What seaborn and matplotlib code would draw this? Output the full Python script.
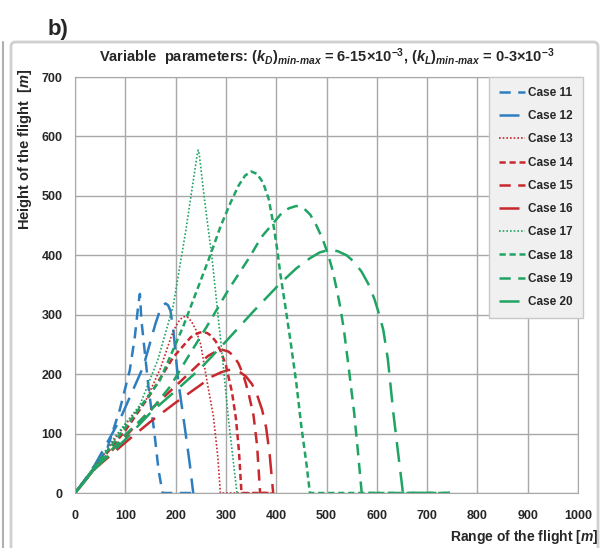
import matplotlib
matplotlib.use("Agg")
import matplotlib.pyplot as plt
import pandas as pd
import seaborn as sns
from matplotlib.patches import FancyBboxPatch

sns.set_style("white")
plt.rcParams['font.family'] = ['Liberation Sans', 'DejaVu Sans']
plt.rcParams['font.weight'] = 'bold'
plt.rcParams['mathtext.fontset'] = 'custom'
plt.rcParams['mathtext.rm'] = 'Liberation Sans:bold'
plt.rcParams['mathtext.it'] = 'Liberation Sans:italic:bold'
plt.rcParams['mathtext.bf'] = 'Liberation Sans:bold'

# trajectories (range, height in m)
x11 = [0, 20, 40, 63, 89, 109, 119, 126, 129, 132, 146, 158, 166, 174, 237]
y11 = [0, 22, 45, 72, 140, 207, 263, 318, 335, 291, 179, 100, 39, 0, 0]

x12 = [0, 20, 40, 89, 136, 160, 168, 174, 180, 185, 190, 196, 205, 219, 228, 235, 237]
y12 = [0, 23, 48, 123, 213, 285, 305, 315, 319, 316, 306, 270, 190, 106, 50, 0, 0]

x13 = [0, 40, 100, 142, 170, 192, 200, 208, 214, 219, 225, 232, 240, 250, 262, 275, 284, 289, 394]
y13 = [0, 45, 115, 158, 210, 265, 280, 291, 296, 297, 295, 288, 275, 250, 190, 130, 60, 0, 0]

x14 = [0, 40, 100, 149, 195, 230, 240, 248, 255, 263, 270, 280, 290, 300, 312, 320, 326, 331, 394]
y14 = [0, 43, 105, 165, 228, 262, 267, 270, 271, 269, 265, 255, 238, 215, 170, 125, 70, 0, 0]

x15 = [0, 40, 100, 150, 200, 250, 265, 280, 293, 305, 315, 325, 335, 345, 355, 362, 368, 394]
y15 = [0, 42, 95, 140, 180, 220, 231, 238, 241, 238, 231, 218, 198, 168, 130, 80, 0, 0]

x16 = [0, 40, 100, 150, 200, 250, 270, 290, 305, 315, 327, 340, 352, 362, 372, 380, 387, 394]
y16 = [0, 41, 85, 120, 152, 182, 195, 203, 207, 207, 204, 196, 183, 165, 140, 110, 65, 0]

x17 = [0, 40, 80, 129, 165, 195, 220, 243, 245, 247, 258, 272, 291, 305, 322]
y17 = [0, 46, 95, 148, 225, 314, 440, 570, 577, 570, 490, 398, 246, 125, 0]

x18 = [0, 40, 100, 169, 215, 268, 290, 310, 325, 338, 350, 362, 374, 385, 394, 402,
       408, 418, 428, 440, 450, 460, 467, 745]
y18 = [0, 44, 110, 190, 280, 398, 450, 490, 517, 534, 541, 537, 522, 495, 454, 410,
       370, 315, 258, 185, 112, 50, 0, 0]

x19 = [0, 40, 100, 150, 189, 229, 262, 305, 348, 370, 394, 410, 425, 440, 455, 468,
       480, 492, 503, 512, 521, 528, 535, 545, 555, 563, 570, 745]
y19 = [0, 42, 98, 138, 179, 235, 280, 342, 398, 430, 454, 470, 479, 483, 479, 468,
       450, 428, 402, 375, 340, 310, 272, 205, 135, 65, 0, 0]

x20 = [0, 40, 100, 150, 200, 250, 300, 354, 407, 440, 467, 487, 505, 522, 540, 556,
       570, 583, 595, 605, 613, 622, 633, 642, 652, 745]
y20 = [0, 41, 90, 135, 172, 210, 255, 305, 352, 378, 395, 405, 409, 407, 400, 388,
       372, 352, 327, 300, 274, 225, 134, 70, 0, 0]

cases = ["Case 11", "Case 12", "Case 13", "Case 14", "Case 15",
         "Case 16", "Case 17", "Case 18", "Case 19", "Case 20"]
xs = [x11, x12, x13, x14, x15, x16, x17, x18, x19, x20]
ys = [y11, y12, y13, y14, y15, y16, y17, y18, y19, y20]

blue, red, green = "#2E7EBF", "#C8282E", "#1FA463"
colours = [blue, blue, red, red, red, red, green, green, green, green]
short_dash, long_dash, dots, dense = (4.5, 3), (8, 4), (1, 1.2), (2.5, 1.5)
dashes = [short_dash, long_dash, dots, dense, short_dash,
          long_dash, dots, dense, short_dash, long_dash]
widths = [1.8, 1.8, 1.2, 1.8, 1.8, 1.8, 1.2, 1.8, 1.8, 1.8]

frames = []
for case, x, y in zip(cases, xs, ys):
    frames.append(pd.DataFrame({"range": x, "height": y, "case": case}))
df = pd.concat(frames, ignore_index=True)

fig = plt.figure(figsize=(6.04, 5.48), dpi=100)
ax = fig.add_axes([75 / 604, 1 - 493 / 548, (578 - 75) / 604, (493 - 77) / 548])

for case, col, dash, lw in zip(cases, colours, dashes, widths):
    sns.lineplot(data=df[df["case"] == case], x="range", y="height",
                 sort=False, estimator=None, color=col,
                 linestyle=(0, dash), lw=lw, label=case, ax=ax)

ax.set_xlim(0, 1000)
ax.set_ylim(0, 700)
ax.set_xticks(range(0, 1001, 100))
ax.set_yticks(range(0, 701, 100))
ax.grid(True, color="#a8a8a8", lw=1)
ax.set_axisbelow(True)
for s in ax.spines.values():
    s.set_color("#a8a8a8")
ax.tick_params(length=0, labelsize=9)
ax.tick_params(axis="x", pad=12)
ax.tick_params(axis="y", pad=9)
for t in ax.get_xticklabels() + ax.get_yticklabels():
    t.set_fontweight("bold")
ax.set_xlabel("")
ax.set_ylabel("")

ax.set_title(r"Variable  parameters: $(k_D)_{min\text{-}max}$ = 6-15×10$^{-3}$, "
             r"$(k_L)_{min\text{-}max}$ = 0-3×10$^{-3}$",
             fontsize=10.5, fontweight="bold", pad=11)

leg = ax.legend(loc="upper right", bbox_to_anchor=(1.01, 1.0), borderaxespad=0,
                frameon=True, fancybox=False, facecolor="#f0f0f0", edgecolor="#c8c8c8",
                framealpha=1, prop={"weight": "bold", "size": 8.5},
                labelspacing=0.95, handlelength=2.2, handletextpad=0.3,
                borderpad=0.85)
leg.get_frame().set_linewidth(1)

fig.text(598 / 604, 1 - 537 / 548, r"Range of the flight [$m$]",
         ha="right", va="center", fontsize=10, fontweight="bold")
fig.text(25 / 604, 1 - 69 / 548, r"Height of the flight  [$m$]",
         ha="center", va="top", rotation=90, fontsize=10.5, fontweight="bold")
fig.text(48 / 604, 1 - 30 / 548, "b)", ha="left", va="center",
         fontsize=16, fontweight="bold")

# chart area border and neighbouring panel edge
fig.patches.append(FancyBboxPatch((11 / 604, -0.02), 587 / 604, (548 - 42) / 548 + 0.02,
                                  boxstyle="round,pad=0,rounding_size=0.008",
                                  transform=fig.transFigure, fill=False,
                                  edgecolor="#d0d0d0", lw=2))
fig.add_artist(plt.Line2D([3 / 604, 3 / 604], [0, 1 - 42 / 548],
                          transform=fig.transFigure, color="#b0b0b0", lw=1.5))

fig.savefig("out.png", dpi=100)
